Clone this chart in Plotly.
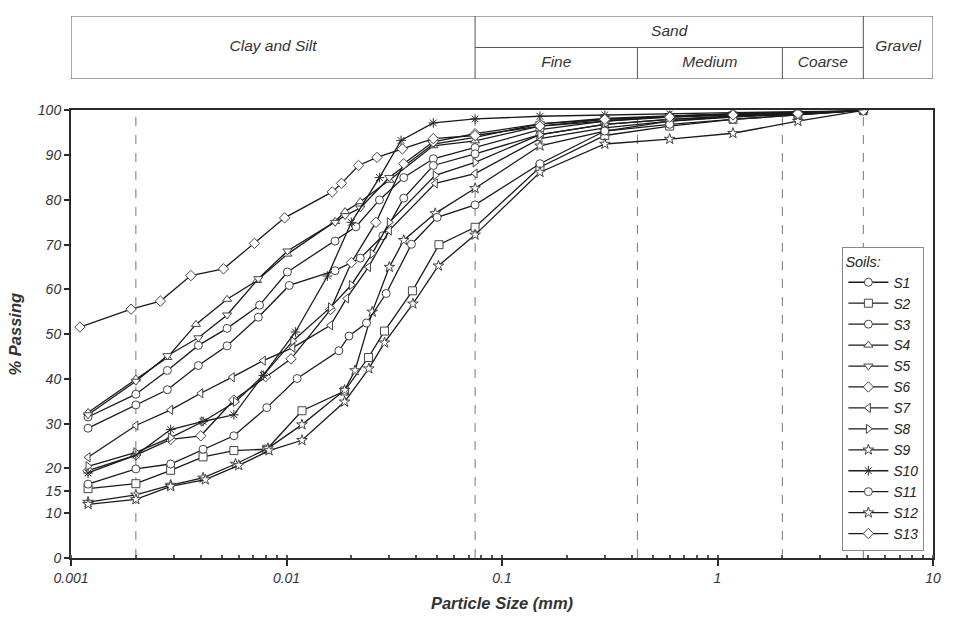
import math
import plotly.graph_objects as go

# ---------------- data ----------------
sieve_d = [0.075, 0.15, 0.3, 0.6, 1.18, 2.36, 4.75]

s1_d = [0.0012, 0.002, 0.0028, 0.0039, 0.0053, 0.0075, 0.0101, 0.0168, 0.021, 0.027, 0.035, 0.048] + sieve_d
s1_p = [31.5, 36.6, 41.9, 47.5, 51.3, 56.5, 63.9, 70.8, 74.0, 80.0, 85.0, 89.2, 91.7, 95.7, 97.6, 98.5, 99.0, 99.4, 100]

s2_d = [0.0012, 0.002, 0.0029, 0.0041, 0.0057, 0.0081, 0.0118, 0.0186, 0.024, 0.0285, 0.0384, 0.051] + sieve_d
s2_p = [15.5, 16.6, 19.6, 22.6, 24.0, 24.3, 32.9, 37.3, 44.8, 50.7, 59.7, 70.0, 73.9, 87.3, 94.4, 96.5, 98.0, 99.0, 100]

s3_d = [0.0012, 0.002, 0.0028, 0.0039, 0.0053, 0.0074, 0.0103, 0.0168, 0.022, 0.028, 0.035, 0.048] + sieve_d
s3_p = [29.0, 34.2, 37.6, 43.0, 47.4, 53.8, 60.9, 64.2, 67.0, 72.0, 80.4, 87.7, 90.3, 94.6, 96.9, 98.0, 98.7, 99.2, 100]

s4_d = [0.0012, 0.002, 0.0028, 0.0038, 0.0053, 0.0073, 0.0101, 0.0168, 0.0187, 0.022, 0.03, 0.048] + sieve_d
s4_p = [32.5, 40.0, 44.8, 52.2, 57.8, 62.0, 67.9, 75.2, 77.4, 79.6, 84.4, 92.1, 93.2, 96.5, 97.6, 98.7, 99.2, 99.5, 100]

s5_d = [0.0012, 0.002, 0.0028, 0.0039, 0.0053, 0.0074, 0.0101, 0.0168, 0.0187, 0.022, 0.03, 0.048] + sieve_d
s5_p = [32.0, 39.5, 45.2, 49.2, 54.3, 62.4, 68.6, 75.0, 76.5, 78.2, 85.0, 92.5, 94.0, 97.0, 98.2, 98.8, 99.2, 99.5, 100]

s6_d = [0.0012, 0.002, 0.0029, 0.004, 0.0057, 0.008, 0.0105, 0.016, 0.02, 0.026, 0.035, 0.048] + sieve_d
s6_p = [19.5, 23.0, 26.5, 27.3, 35.3, 40.5, 44.5, 55.5, 66.0, 75.0, 88.1, 93.0, 94.8, 97.0, 98.0, 98.7, 99.2, 99.5, 100]

s7_d = [0.0012, 0.002, 0.0029, 0.004, 0.0056, 0.0078, 0.0107, 0.016, 0.019, 0.024, 0.03, 0.049] + sieve_d
s7_p = [22.5, 29.6, 33.1, 36.8, 40.4, 44.1, 47.0, 52.0, 58.0, 65.0, 73.2, 83.7, 85.9, 93.7, 96.1, 97.6, 98.5, 99.2, 100]

s8_d = [0.0012, 0.002, 0.0029, 0.0041, 0.0058, 0.0078, 0.0107, 0.016, 0.02, 0.025, 0.03, 0.049] + sieve_d
s8_p = [20.5, 23.6, 26.9, 30.5, 34.9, 40.8, 48.5, 56.0, 61.0, 68.0, 75.0, 85.5, 88.4, 94.6, 96.9, 98.0, 98.7, 99.2, 100]

s9_d = [0.0012, 0.002, 0.0029, 0.0041, 0.0058, 0.0082, 0.0118, 0.0186, 0.0208, 0.025, 0.03, 0.035, 0.049] + sieve_d
s9_p = [12.5, 14.1, 16.3, 17.9, 21.0, 24.5, 29.8, 37.5, 41.9, 55.0, 65.0, 71.0, 77.0, 82.6, 92.1, 95.4, 97.6, 98.7, 99.2, 100]

s10_d = [0.0012, 0.002, 0.0029, 0.0041, 0.0057, 0.0078, 0.011, 0.0155, 0.02, 0.027, 0.034, 0.048] + sieve_d
s10_p = [19.0, 23.0, 28.7, 30.5, 32.0, 40.8, 50.5, 63.0, 75.0, 85.0, 93.3, 97.2, 98.1, 98.7, 99.0, 99.3, 99.5, 99.7, 100]

s11_d = [0.0012, 0.002, 0.0029, 0.0041, 0.0057, 0.0081, 0.0112, 0.0175, 0.0195, 0.0235, 0.029, 0.038, 0.05] + sieve_d
s11_p = [16.5, 19.9, 21.0, 24.3, 27.3, 33.6, 40.1, 46.3, 49.6, 52.5, 59.1, 70.1, 76.1, 78.9, 88.1, 95.4, 96.9, 98.0, 99.0, 100]

s12_d = [0.0012, 0.002, 0.0029, 0.0042, 0.006, 0.0083, 0.0118, 0.0186, 0.0241, 0.0285, 0.0386, 0.0507] + sieve_d
s12_p = [12.0, 13.1, 16.0, 17.5, 20.7, 24.0, 26.3, 34.9, 42.3, 48.1, 56.8, 65.3, 72.2, 86.2, 92.5, 93.6, 94.9, 97.6, 100]

s13_d = [0.0011, 0.0019, 0.0026, 0.0036, 0.0051, 0.0071, 0.0098, 0.0163, 0.018, 0.0216, 0.0263, 0.0345, 0.048] + sieve_d
s13_p = [51.6, 55.6, 57.4, 63.1, 64.6, 70.3, 76.0, 81.8, 83.7, 87.7, 89.5, 91.4, 93.7, 94.4, 96.5, 98.0, 98.5, 99.0, 99.3, 100]

soil_names = ["S1", "S2", "S3", "S4", "S5", "S6", "S7", "S8", "S9", "S10", "S11", "S12", "S13"]
soil_d = [s1_d, s2_d, s3_d, s4_d, s5_d, s6_d, s7_d, s8_d, s9_d, s10_d, s11_d, s12_d, s13_d]
soil_p = [s1_p, s2_p, s3_p, s4_p, s5_p, s6_p, s7_p, s8_p, s9_p, s10_p, s11_p, s12_p, s13_p]
soil_symbols = ["circle", "square", "circle", "triangle-up", "triangle-down", "diamond",
                "triangle-left", "triangle-right", "star", "asterisk-open", "circle", "star", "diamond"]

boundary_sizes = [0.002, 0.075, 0.425, 2, 4.75]
boundary_labels = ["0.002", "0.075", "0.425", "2", "4.75"]
major_ticks = [0.001, 0.01, 0.1, 1, 10]
major_labels = ["0.001", "0.01", "0.1", "1", "10"]
y_ticks = [0, 10, 15, 20, 30, 40, 50, 60, 70, 80, 90, 100]

# header table cells: (label, from size, to size, row)
header_cells = [("Clay and Silt", 0.001, 0.075, "full"), ("Sand", 0.075, 4.75, "top"),
                ("Fine", 0.075, 0.425, "bottom"), ("Medium", 0.425, 2, "bottom"),
                ("Coarse", 2, 4.75, "bottom"), ("Gravel", 4.75, 10, "full")]

# ---------------- figure ----------------
INK = "#2b2b2b"
TXT = "#333333"
FONT = "Liberation Sans, Arial, sans-serif"
fig = go.Figure()

# dashed boundary lines
for b in boundary_sizes:
    fig.add_trace(go.Scatter(x=[b, b], y=[0, 100], mode="lines", showlegend=False, hoverinfo="skip",
                             line=dict(color="#777777", width=1, dash="dash")))

for name, d, p, sym in zip(soil_names, soil_d, soil_p, soil_symbols):
    fig.add_trace(go.Scatter(
        x=d, y=p, mode="lines+markers", name=name,
        line=dict(color="#1a1a1a", width=1.3),
        marker=dict(symbol=sym, size=8, color="white" if sym != "asterisk-open" else INK,
                    line=dict(color="#444444", width=1)),
    ))

# header table (separate subplot sharing the log scale)
tbl = dict(mode="lines", line=dict(color="#555555", width=1), showlegend=False, hoverinfo="skip",
           xaxis="x2", yaxis="y2")
fig.add_trace(go.Scatter(x=[0.001, 10, 10, 0.001, 0.001], y=[0, 0, 2, 2, 0], **tbl))
fig.add_trace(go.Scatter(x=[0.075, 0.075], y=[0, 2], **tbl))
fig.add_trace(go.Scatter(x=[4.75, 4.75], y=[0, 2], **tbl))
fig.add_trace(go.Scatter(x=[0.075, 4.75], y=[1, 1], **tbl))
fig.add_trace(go.Scatter(x=[0.425, 0.425], y=[0, 1], **tbl))
fig.add_trace(go.Scatter(x=[2, 2], y=[0, 1], **tbl))
cx, cy, ct = [], [], []
for label, a, b, row in header_cells:
    cx.append(math.sqrt(a * b))
    cy.append({"full": 1.0, "top": 1.5, "bottom": 0.5}[row])
    ct.append(label)
fig.add_trace(go.Scatter(x=cx, y=cy, text=ct, mode="text", showlegend=False, hoverinfo="skip",
                         textfont=dict(family=FONT, size=15.5, color=TXT, style="italic"),
                         xaxis="x2", yaxis="y2"))

# small boundary labels under the axis
for b, lab in zip(boundary_sizes, boundary_labels):
    fig.add_annotation(x=math.log10(b), y=-3.2, xref="x", yref="y", text=lab, showarrow=False,
                       font=dict(family=FONT, size=10, color=TXT, style="italic"))

main_top = (559 - 104) / 551.0
fig.update_layout(
    width=956, height=618,
    margin=dict(l=71, r=23, t=8, b=59),
    paper_bgcolor="white", plot_bgcolor="white",
    font=dict(family=FONT, color=TXT),
    xaxis=dict(type="log", range=[-3, 1], domain=[0, 1], anchor="y",
               tickvals=major_ticks, ticktext=major_labels, ticks="outside", ticklen=6,
               tickcolor=INK, tickwidth=1.5,
               tickfont=dict(family=FONT, size=14, color=TXT, style="italic"),
               minor=dict(ticks="inside", ticklen=3, tickcolor="#555555", dtick="D1", showgrid=False),
               showline=True, linecolor=INK, linewidth=2, mirror=True,
               showgrid=False, zeroline=False,
               title=dict(text="Particle Size (mm)", standoff=13,
                          font=dict(family=FONT, size=16.5, color=TXT, style="italic", weight="bold"))),
    yaxis=dict(range=[0, 100], domain=[0, main_top], anchor="x",
               tickvals=y_ticks, ticks="outside", ticklen=5, tickcolor=INK, tickwidth=1.5,
               tickfont=dict(family=FONT, size=14, color=TXT, style="italic"),
               showline=True, linecolor=INK, linewidth=2, mirror=True,
               showgrid=False, zeroline=False,
               title=dict(text="% Passing", standoff=12,
                          font=dict(family=FONT, size=16.5, color=TXT, style="italic", weight="bold"))),
    xaxis2=dict(type="log", range=[-3, 1], domain=[0, 1], anchor="y2", visible=False),
    yaxis2=dict(range=[0, 2], domain=[(559 - 72) / 551.0, 1.0], anchor="x2", visible=False),
    legend=dict(x=0.99, xanchor="right", y=0.013, yanchor="bottom",
                bgcolor="white", bordercolor="#888888", borderwidth=1,
                font=dict(family=FONT, size=13.8, color="#222222", style="italic"),
                title=dict(text="Soils:", font=dict(family=FONT, size=14.5, color="#222222", style="italic")),
                tracegroupgap=0, itemwidth=40),
)

fig.write_html("out.html")
